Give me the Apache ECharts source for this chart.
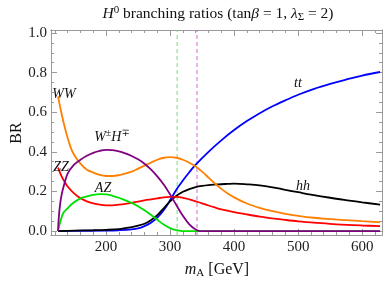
<!DOCTYPE html>
<html><head><meta charset="utf-8">
<script src="https://cdn.jsdelivr.net/npm/echarts@6/dist/echarts.min.js"></script>
<style>html,body{margin:0;padding:0;background:#fff}#c{width:391px;height:282px}</style>
</head><body><div id="c"></div><script>
// ---- data (m_A in GeV, branching ratios) ----
const ttX = [125,150,200,220,240,250,260,270,280,290,300,310,320,330,340,360,380,400,420,440,460,480,500,525,550,575,600,628];
const ttY = [0,0.001,0.002,0.004,0.008,0.013,0.025,0.042,0.068,0.105,0.155,0.21,0.255,0.297,0.335,0.40,0.458,0.51,0.555,0.595,0.63,0.66,0.688,0.718,0.743,0.765,0.785,0.803];

const hhX = [125,150,180,200,220,240,250,260,270,280,290,300,310,320,330,340,350,360,375,390,400,420,440,460,480,500,520,550,580,600,628];
const hhY = [0,0.002,0.004,0.006,0.01,0.02,0.027,0.037,0.055,0.08,0.115,0.15,0.178,0.198,0.212,0.222,0.228,0.232,0.236,0.238,0.239,0.236,0.231,0.221,0.208,0.196,0.184,0.168,0.154,0.145,0.133];

const zzX = [125,130,135,140,150,160,170,180,190,200,210,220,230,240,250,260,270,280,290,300,310,320,330,340,350,360,370,380,400,420,440,460,480,500,530,560,600,628];
const zzY = [0.32,0.28,0.25,0.225,0.19,0.165,0.15,0.14,0.133,0.13,0.13,0.133,0.137,0.142,0.148,0.155,0.16,0.165,0.17,0.172,0.172,0.168,0.16,0.15,0.14,0.129,0.119,0.11,0.096,0.084,0.073,0.064,0.056,0.049,0.041,0.034,0.028,0.025];

const wwX = [125,130,135,140,145,150,160,170,180,190,200,210,220,230,240,250,260,270,280,290,300,310,320,330,340,350,360,370,380,390,400,420,440,460,480,500,525,550,575,600,628];
const wwY = [0.68,0.60,0.53,0.47,0.42,0.385,0.34,0.31,0.295,0.283,0.278,0.278,0.282,0.29,0.30,0.315,0.33,0.345,0.36,0.37,0.373,0.37,0.36,0.345,0.326,0.30,0.27,0.24,0.213,0.19,0.17,0.139,0.117,0.10,0.087,0.077,0.067,0.06,0.055,0.05,0.045];

const azX = [125,128,133,140,148,160,170,180,190,200,210,220,230,240,250,260,270,280,290,300,310,318,345,628];
const azY = [0,0.04,0.09,0.115,0.14,0.165,0.175,0.183,0.186,0.185,0.178,0.168,0.155,0.142,0.125,0.105,0.082,0.057,0.033,0.015,0.004,0,0,0];

const whX = [125,126,128,131,135,140,150,160,170,180,190,200,210,220,230,240,250,260,270,280,290,300,310,320,330,340,346,628];
const whY = [0,0.06,0.13,0.19,0.24,0.29,0.335,0.36,0.38,0.395,0.405,0.41,0.408,0.402,0.392,0.379,0.362,0.34,0.311,0.276,0.235,0.185,0.13,0.077,0.034,0.008,0,0];

const thresholds = [311, 342];
const xTickLabels = [200,300,400,500,600];
const xMinor = [120,140,160,180,220,240,260,280,320,340,360,380,420,440,460,480,520,540,560,580,620];
const yTickLabels = [0,0.2,0.4,0.6,0.8,1.0];
const yMinor = [0.05,0.1,0.15,0.25,0.3,0.35,0.45,0.5,0.55,0.65,0.7,0.75,0.85,0.9,0.95];

const pairs = (xs, ys) => xs.map((x, i) => [x, ys[i]]);
const SERIF = "'Liberation Serif','DejaVu Serif',serif";
const GRAY = '#9a9a9a';
const XMIN = 114, XMAX = 631, YMIN = -0.02, YMAX = 1.015;
const gridBox = {left: 51, right: 9, top: 30, bottom: 47};

function xAx(gi, pos, vals, len, labels) {
  return {type:'value', gridIndex:gi, position:pos, min:XMIN, max:XMAX,
    axisLine:{show:true, onZero:false, lineStyle:{color:GRAY, width:1}},
    axisTick:{show:true, inside:true, length:len, customValues:vals, lineStyle:{color:GRAY}},
    axisLabel:{show:labels, customValues:vals, fontFamily:SERIF, fontSize:15, color:'#222', margin:5},
    splitLine:{show:false}};
}
function yAx(gi, pos, vals, len, labels) {
  return {type:'value', gridIndex:gi, position:pos, min:YMIN, max:YMAX,
    axisLine:{show:true, onZero:false, lineStyle:{color:GRAY, width:1}},
    axisTick:{show:true, inside:true, length:len, customValues:vals, lineStyle:{color:GRAY}},
    axisLabel:{show:labels, customValues:vals, fontFamily:SERIF, fontSize:15, color:'#222', margin:4,
      formatter: v => v.toFixed(1)},
    splitLine:{show:false}};
}

function line(name, xs, ys, color) {
  return {type:'line', name, data:pairs(xs, ys), xAxisIndex:0, yAxisIndex:0,
    showSymbol:false, symbol:'none', smooth:0.35,
    lineStyle:{color, width:1.8}, itemStyle:{color}, z:3};
}
function vline(x, color) {
  return {type:'line', data:[[x, YMIN], [x, YMAX]], xAxisIndex:0, yAxisIndex:0, silent:true, z:2,
    showSymbol:false, symbol:'none',
    lineStyle:{color, type:[4,3], width:1}, itemStyle:{color}};
}

const rich = {
  n:{fontFamily:SERIF, fontSize:15, lineHeight:18, fill:'#111', color:'#111'},
  i:{fontFamily:SERIF, fontSize:15, fontStyle:'italic', lineHeight:18, fill:'#111', color:'#111'},
  sup:{fontFamily:SERIF, fontSize:10, lineHeight:10, verticalAlign:'top', fill:'#111', color:'#111'},
  sub:{fontFamily:SERIF, fontSize:10, lineHeight:10, verticalAlign:'bottom', fill:'#111', color:'#111'}
};
function txt(text, x, y, size, extra) {
  const r = JSON.parse(JSON.stringify(rich));
  if (size) { r.n.fontSize = size; r.i.fontSize = size; r.sup.fontSize = Math.round(size*0.68); r.sub.fontSize = Math.round(size*0.68); }
  return Object.assign({type:'text', x, y, z:10, style:{text, rich:r, align:'center', verticalAlign:'middle',
    fontFamily:SERIF, fontSize:size||15, fill:'#111'}}, extra || {});
}

const chart = echarts.init(document.getElementById('c'), null, {renderer:'canvas'});
chart.setOption({
  animation:false,
  backgroundColor:'#fff',
  grid:[Object.assign({}, gridBox), Object.assign({}, gridBox)],
  xAxis:[xAx(0,'bottom',xTickLabels,6,true), xAx(0,'top',xTickLabels,6,false),
         xAx(1,'bottom',xMinor,3,false), xAx(1,'top',xMinor,3,false)],
  yAxis:[yAx(0,'left',yTickLabels,6,true), yAx(0,'right',yTickLabels,6,false),
         yAx(1,'left',yMinor,3,false), yAx(1,'right',yMinor,3,false)],
  series:[
    vline(thresholds[0], '#77dd77'),
    vline(thresholds[1], '#c872c8'),
    line('tt', ttX, ttY, '#0000ff'),
    line('hh', hhX, hhY, '#000000'),
    line('ZZ', zzX, zzY, '#ff0000'),
    line('WW', wwX, wwY, '#ff8000'),
    line('AZ', azX, azY, '#00e000'),
    line('WH', whX, whY, '#800080')
  ],
  graphic:[
    txt('{i|H}{sup|0}{n| branching ratios (tan}{i|β}{n| = 1, }{i|λ}{sub|Σ}{n| = 2)}', 218, 14, 15.5),
    txt('{n|BR}', 17, 133, 16, {rotation:Math.PI/2}),
    txt('{i|m}{sub|A}{n| [GeV]}', 217, 270, 16),
    txt('{i|WW}', 64, 94, 14),
    txt('{i|ZZ}', 61, 167, 14),
    txt('{i|W}{sup|±}{i|H}{sup|∓}', 112, 137, 14),
    txt('{i|AZ}', 103, 188, 14),
    txt('{i|tt}', 298, 83, 14),
    txt('{i|hh}', 303, 186, 14)
  ]
});
</script></body></html>
